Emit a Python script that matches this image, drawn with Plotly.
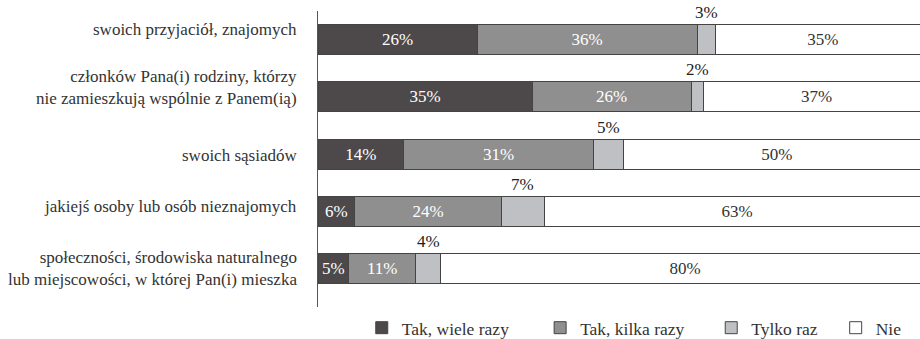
import plotly.graph_objects as go

categories = [
    "swoich przyjaciół, znajomych",
    "członków Pana(i) rodziny, którzy<br>nie zamieszkują wspólnie z Panem(ią)",
    "swoich sąsiadów",
    "jakiejś osoby lub osób nieznajomych",
    "społeczności, środowiska naturalnego<br>lub miejscowości, w której Pan(i) mieszka",
]
series_names = ["Tak, wiele razy", "Tak, kilka razy", "Tylko raz", "Nie"]
tak_wiele = [26, 35, 14, 6, 5]
tak_kilka = [36, 26, 31, 24, 11]
tylko_raz = [3, 2, 5, 7, 4]
nie = [35, 37, 50, 63, 80]

FONT = "'Liberation Serif', 'DejaVu Serif', serif"
FS = 17
colors = ["#4d494a", "#8f8f8f", "#bfc0c3", "#ffffff"]
text_colors = ["#ffffff", "#ffffff", "#222222", "#333333"]
series = [tak_wiele, tak_kilka, tylko_raz, nie]
legend_pads = [6, 5, 3, 0]
label_yshift = [10, 9, -1, 5, 0]

fig = go.Figure()
for i, (name, vals) in enumerate(zip(series_names, series)):
    show_text = i != 2
    fig.add_trace(go.Bar(
        y=categories, x=vals, orientation="h",
        name=name + "\u00a0" * legend_pads[i],
        marker=dict(color=colors[i], line=dict(color="#444444", width=1)),
        text=[f"{v}%" for v in vals] if show_text else None,
        textposition="inside" if show_text else "none",
        insidetextanchor="middle",
        textfont=dict(family=FONT, size=FS, color=text_colors[i]),
        constraintext="none",
        hoverinfo="skip",
    ))

# outside labels for "Tylko raz" placed above the segment
for cat, a, b, c in zip(categories, tak_wiele, tak_kilka, tylko_raz):
    fig.add_annotation(
        x=a + b + c / 2, y=cat, text=f"{c}%", showarrow=False,
        yshift=27, font=dict(family=FONT, size=FS, color="#222222"),
    )

# category labels
for cat, ys in zip(categories, label_yshift):
    fig.add_annotation(
        xref="paper", x=0, y=cat, text=cat, showarrow=False,
        xanchor="right", align="right", xshift=-19, yshift=ys,
        font=dict(family=FONT, size=FS, color="#333333"),
    )

fig.update_layout(
    width=920, height=339,
    margin=dict(l=318, r=0, t=11, b=32, autoexpand=False),
    barmode="stack", bargap=0.476,
    plot_bgcolor="white", paper_bgcolor="white",
    font=dict(family=FONT, size=FS, color="#333333"),
    xaxis=dict(range=[0, 98.4], visible=False, fixedrange=True),
    yaxis=dict(
        autorange="reversed", showline=True, linecolor="#555555", linewidth=1,
        ticks="", showticklabels=False, showgrid=False, zeroline=False,
    ),
    legend=dict(
        orientation="h", x=0.978, xanchor="right",
        yref="container", y=0.033, yanchor="middle",
        font=dict(family=FONT, size=17.5, color="#333333"),
        traceorder="normal",
    ),
    uniformtext=dict(mode=False),
)

fig.write_html("out.html")
